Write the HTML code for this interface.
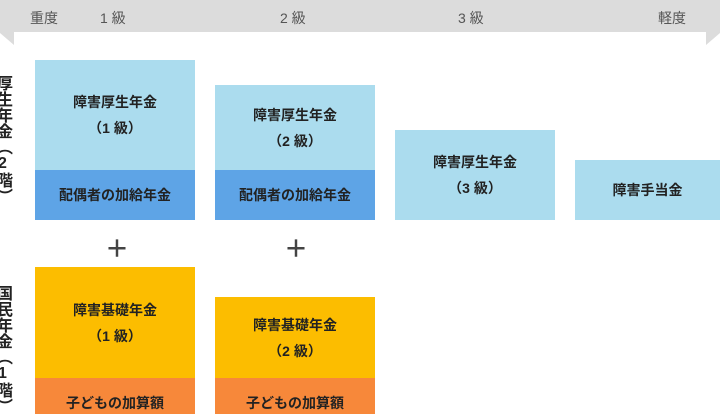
<!DOCTYPE html>
<html><head><meta charset="utf-8"><style>
body{margin:0;width:720px;height:414px;overflow:hidden;background:#fff;position:relative;font-family:"Liberation Sans","Noto Sans CJK JP",sans-serif;}
.a{position:absolute;}
.b{position:absolute;display:flex;flex-direction:column;align-items:center;justify-content:center;font-weight:bold;font-size:14px;color:#222;line-height:26px;text-align:center;}
.lb{background:#abdcee}.db{background:#5ea4e6}.y{background:#fcbd00}.o{background:#f7883a}
.t{position:absolute;top:8px;font-size:14px;color:#555;}
.v{position:absolute;left:-7px;width:18px;font-size:16px;font-weight:bold;color:#222;line-height:18px;writing-mode:vertical-rl;text-orientation:upright;}
.p{position:absolute;font-size:24px;font-weight:bold;color:#444;}
</style></head><body>
<svg class="a" style="left:0;top:0" width="720" height="46"><polygon points="0,0 720,0 720,33 706,45 706,32 14,32 14,45 0,33" fill="#dcdcdc"/></svg>
<div class="t" style="left:30px">重度</div>
<div class="t" style="left:100px">1 級</div>
<div class="t" style="left:280px">2 級</div>
<div class="t" style="left:458px">3 級</div>
<div class="t" style="left:658px">軽度</div>
<div class="v" style="top:75px">厚生年金（2階）</div>
<div class="v" style="top:285px">国民年金（1階）</div>
<div class="b lb" style="left:35px;top:60px;width:160px;height:110px">障害厚生年金<br>（1 級）</div>
<div class="b db" style="left:35px;top:170px;width:160px;height:50px">配偶者の加給年金</div>
<div class="b lb" style="left:215px;top:85px;width:160px;height:85px">障害厚生年金<br>（2 級）</div>
<div class="b db" style="left:215px;top:170px;width:160px;height:50px">配偶者の加給年金</div>
<div class="b lb" style="left:395px;top:130px;width:160px;height:90px">障害厚生年金<br>（3 級）</div>
<div class="b lb" style="left:575px;top:160px;width:145px;height:60px">障害手当金</div>
<div class="p" style="left:105px;top:229px">＋</div>
<div class="p" style="left:284px;top:229px">＋</div>
<div class="b y" style="left:35px;top:267px;width:160px;height:111px">障害基礎年金<br>（1 級）</div>
<div class="b o" style="left:35px;top:378px;width:160px;height:36px;padding-top:14px;box-sizing:border-box">子どもの加算額</div>
<div class="b y" style="left:215px;top:297px;width:160px;height:81px">障害基礎年金<br>（2 級）</div>
<div class="b o" style="left:215px;top:378px;width:160px;height:36px;padding-top:14px;box-sizing:border-box">子どもの加算額</div>
</body></html>
